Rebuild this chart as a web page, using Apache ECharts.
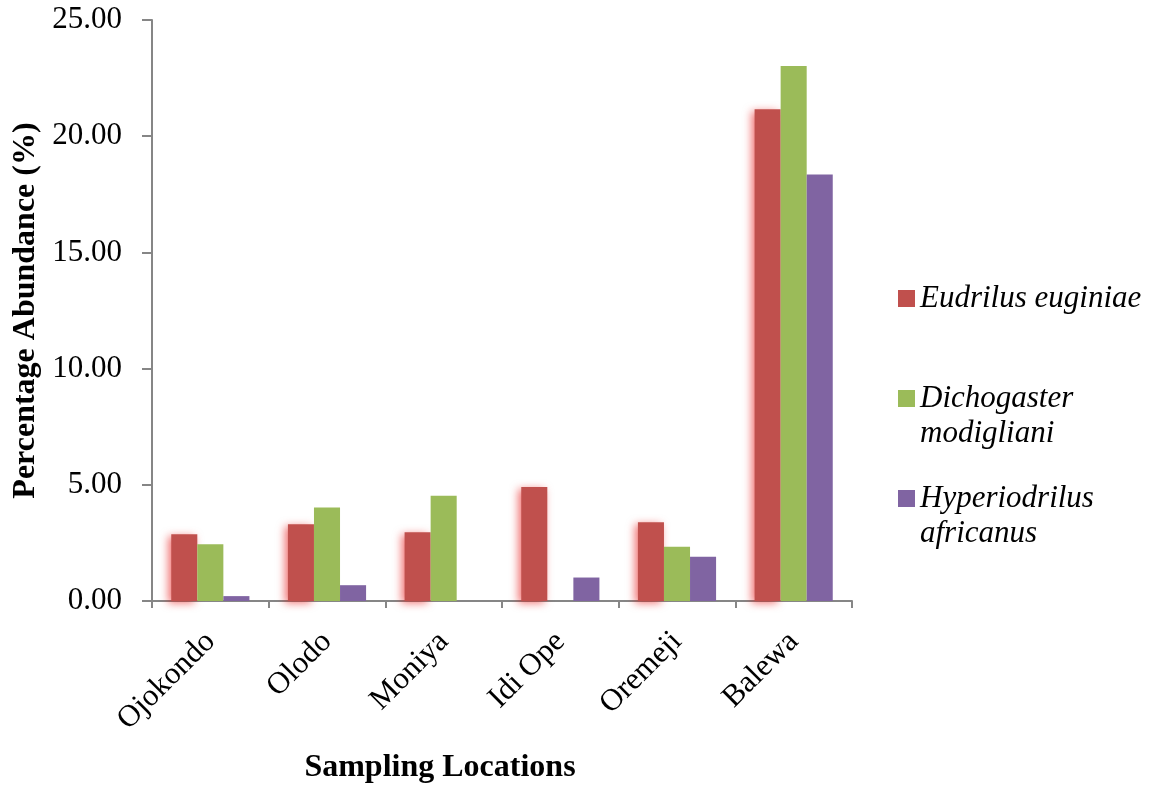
<!DOCTYPE html>
<html>
<head>
<meta charset="utf-8">
<script src="https://cdn.jsdelivr.net/npm/echarts@6/dist/echarts.min.js"></script>
<style>
  html, body { margin: 0; padding: 0; background: #fff; }
  #chart { width: 1162px; height: 789px; }
</style>
</head>
<body>
<div id="chart"></div>
<script>
const locations = ['Ojokondo', 'Olodo', 'Moniya', 'Idi Ope', 'Oremeji', 'Balewa']
const eudrilus = [2.87, 3.30, 2.96, 4.90, 3.39, 21.16]
const dichogaster = [2.44, 4.02, 4.53, 0, 2.33, 23.02]
const hyperiodrilus = [0.21, 0.68, 0, 1.01, 1.90, 18.35]
const yTicks = { min: 0, max: 25, interval: 5 }

const serif = '"Liberation Serif", "Times New Roman", serif'
const axisGrey = '#868686'

const chart = echarts.init(document.getElementById('chart'))

// one legend per item so the two-line names keep the square on their first line
function legendFor(name, top, twoLines) {
  return {
    data: [name],
    left: 893,
    top: top,
    itemWidth: 17,
    itemHeight: 17,
    icon: 'rect',
    formatter: n => twoLines ? ' \n' + n.replace(' ', '\n') : n,
    textStyle: {
      fontFamily: serif,
      fontStyle: 'italic',
      fontSize: 31,
      color: '#000',
      lineHeight: 35
    }
  }
}

chart.setOption({
  animation: false,
  grid: { left: 152, right: 310, top: 20, bottom: 188 },
  legend: [
    legendFor('Eudrilus euginiae', 276, false),
    legendFor('Dichogaster modigliani', 341, true),
    legendFor('Hyperiodrilus africanus', 441, true)
  ],
  xAxis: {
    type: 'category',
    data: locations,
    name: 'Sampling Locations',
    nameLocation: 'middle',
    nameGap: 151,
    nameTextStyle: {
      fontFamily: serif, fontWeight: 'bold', fontSize: 32, color: '#000',
      padding: [0, 124, 0, 0]
    },
    axisLine: { lineStyle: { color: axisGrey, width: 2 } },
    axisTick: { show: true, length: 7, lineStyle: { color: axisGrey, width: 2 } },
    axisLabel: {
      rotate: 45,
      margin: 36,
      fontFamily: serif,
      fontSize: 31,
      color: '#000'
    }
  },
  yAxis: {
    type: 'value',
    min: yTicks.min,
    max: yTicks.max,
    interval: yTicks.interval,
    name: 'Percentage Abundance (%)',
    nameLocation: 'middle',
    nameGap: 108,
    nameTextStyle: { fontFamily: serif, fontWeight: 'bold', fontSize: 32, color: '#000' },
    splitLine: { show: false },
    axisLine: { show: true, lineStyle: { color: axisGrey, width: 2 } },
    axisTick: { show: true, length: 10, lineStyle: { color: axisGrey, width: 2 } },
    axisLabel: {
      margin: 30,
      fontFamily: serif,
      fontSize: 31,
      color: '#000',
      formatter: v => v.toFixed(2)
    }
  },
  series: [
    {
      name: 'Eudrilus euginiae',
      type: 'bar',
      data: eudrilus,
      barGap: '0%',
      barCategoryGap: '33%',
      itemStyle: {
        color: '#C0504D',
        shadowColor: 'rgba(230, 0, 0, 0.55)',
        shadowBlur: 9,
        shadowOffsetX: -3,
        shadowOffsetY: 2
      }
    },
    {
      name: 'Dichogaster modigliani',
      type: 'bar',
      data: dichogaster,
      itemStyle: { color: '#9BBB59' }
    },
    {
      name: 'Hyperiodrilus africanus',
      type: 'bar',
      data: hyperiodrilus,
      itemStyle: { color: '#8064A2' }
    }
  ]
})
</script>
</body>
</html>
